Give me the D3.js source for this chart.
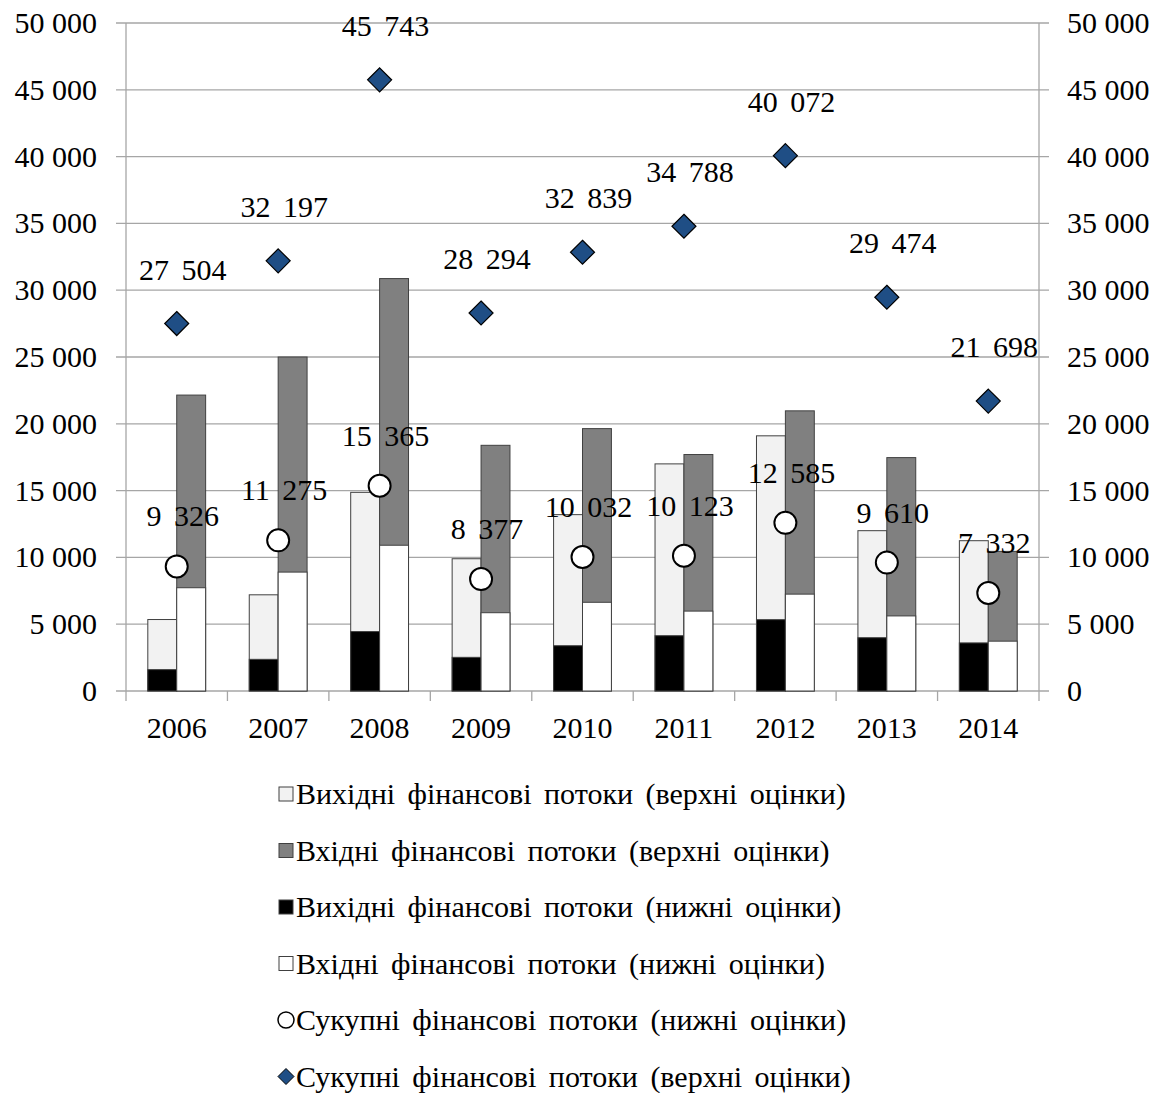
<!DOCTYPE html>
<html><head><meta charset="utf-8"><script src="https://cdn.jsdelivr.net/npm/d3@7"></script></head>
<body style="margin:0">
<svg id="chart" width="1162" height="1093"></svg>
<script>
// chart data
const years = ["2006", "2007", "2008", "2009", "2010", "2011", "2012", "2013", "2014"];
const outUpper = [5350, 7200, 14870, 9900, 13200, 17000, 19100, 12000, 11250];
const inUpper = [22150, 25000, 30870, 18390, 19640, 17700, 20970, 17470, 10450];
const outLower = [1600, 2370, 4450, 2520, 3390, 4140, 5340, 3990, 3600];
const inLower = [7730, 8900, 10910, 5860, 6640, 5980, 7250, 5620, 3730];
const totalLower = [9326, 11275, 15365, 8377, 10032, 10123, 12585, 9610, 7332];
const totalUpper = [27504, 32197, 45743, 28294, 32839, 34788, 40072, 29474, 21698];
const yTicks = [0, 5000, 10000, 15000, 20000, 25000, 30000, 35000, 40000, 45000, 50000];

const legendItems = [
  { label: "Вихідні фінансові потоки (верхні оцінки)", type: "rect", fill: "#f2f2f2" },
  { label: "Вхідні фінансові потоки (верхні оцінки)", type: "rect", fill: "#808080" },
  { label: "Вихідні фінансові потоки (нижні оцінки)", type: "rect", fill: "#000000" },
  { label: "Вхідні фінансові потоки (нижні оцінки)", type: "rect", fill: "#ffffff" },
  { label: "Сукупні фінансові потоки (нижні оцінки)", type: "circle", fill: "#ffffff" },
  { label: "Сукупні фінансові потоки (верхні оцінки)", type: "diamond", fill: "#1f4e85" }
];

const plotLeft = 126, plotTop = 23, plotRight = 1039, plotBottom = 691;
const svg = d3.select("#chart");
const fmt = v => d3.format(",")(v).replace(/,/g, " ");

// scales
const x = d3.scaleBand().domain(years).range([plotLeft, plotRight]).padding(0);
const bw = x.bandwidth();
const xSub = d3.scaleBand().domain(["out", "in"]).range([bw * 0.215, bw * 0.785]).padding(0);
const y = d3.scaleLinear().domain([0, 50000]).range([plotBottom, plotTop]);
const cx = d => x(d) + bw / 2;

// gridlines and axis lines
svg.selectAll(".grid").data(yTicks).enter().append("line")
  .attr("x1", plotLeft - 10).attr("x2", plotRight + 10)
  .attr("y1", d => y(d)).attr("y2", d => y(d))
  .attr("stroke", "#a6a6a6").attr("stroke-width", 1.3);
svg.selectAll(".vaxis").data([plotLeft, plotRight]).enter().append("line")
  .attr("x1", d => d).attr("x2", d => d).attr("y1", plotTop).attr("y2", plotBottom)
  .attr("stroke", "#a6a6a6").attr("stroke-width", 1.3);
svg.selectAll(".xtick").data(d3.range(years.length + 1)).enter().append("line")
  .attr("x1", i => plotLeft + i * bw).attr("x2", i => plotLeft + i * bw)
  .attr("y1", plotBottom).attr("y2", plotBottom + 10)
  .attr("stroke", "#a6a6a6").attr("stroke-width", 1.3);

// bars: taller "upper" bar first, "lower" bar on top
const barSets = [
  { key: "out", values: outUpper, fill: "#f2f2f2" },
  { key: "in", values: inUpper, fill: "#808080" },
  { key: "out", values: outLower, fill: "#000000" },
  { key: "in", values: inLower, fill: "#ffffff" }
];
barSets.forEach(s => {
  svg.selectAll(null).data(years).enter().append("rect")
    .attr("x", d => x(d) + xSub(s.key))
    .attr("width", xSub.bandwidth())
    .attr("y", (d, i) => y(s.values[i]))
    .attr("height", (d, i) => plotBottom - y(s.values[i]))
    .attr("fill", s.fill).attr("stroke", "#404040").attr("stroke-width", 1);
});

// markers
svg.selectAll(".circ").data(years).enter().append("circle")
  .attr("cx", cx).attr("cy", (d, i) => y(totalLower[i])).attr("r", 11)
  .attr("fill", "#fff").attr("stroke", "#000").attr("stroke-width", 2);
svg.selectAll(".diam").data(years).enter().append("path")
  .attr("d", "M0,-12L12,0L0,12L-12,0Z")
  .attr("transform", (d, i) => `translate(${cx(d)},${y(totalUpper[i])})`)
  .attr("fill", "#1f4e85").attr("stroke", "#000").attr("stroke-width", 1.2);

// all texts; ws = extra word spacing (only data labels and legend)
const texts = [];
yTicks.forEach(v => {
  texts.push({ t: fmt(v), x: plotLeft - 29, y: y(v) + 10, a: "end", ws: 0 });
  texts.push({ t: fmt(v), x: plotRight + 28, y: y(v) + 10, a: "start", ws: 0 });
});
years.forEach((yr, i) => {
  texts.push({ t: yr, x: cx(yr), y: plotBottom + 47, a: "middle", ws: 0 });
  texts.push({ t: fmt(totalLower[i]), x: cx(yr) + 6, y: y(totalLower[i]) - 40, a: "middle", ws: 5 });
  texts.push({ t: fmt(totalUpper[i]), x: cx(yr) + 6, y: y(totalUpper[i]) - 44, a: "middle", ws: 5 });
});
legendItems.forEach((d, i) => {
  texts.push({ t: d.label, x: 296, y: 794 + i * 56.5 + 10, a: "start", ws: 5 });
});
svg.selectAll(".txt").data(texts).enter().append("text")
  .attr("x", d => d.x).attr("y", d => d.y)
  .attr("text-anchor", d => d.a)
  .attr("font-size", 30)
  .attr("font-family", "Times New Roman, Liberation Serif, serif")
  .attr("word-spacing", d => d.ws)
  .attr("fill", "#000")
  .text(d => d.t);

// legend symbols
legendItems.forEach((d, i) => {
  const yy = 794 + i * 56.5;
  if (d.type === "rect") {
    svg.append("rect").attr("x", 279).attr("y", yy - 7).attr("width", 14).attr("height", 14)
      .attr("fill", d.fill).attr("stroke", "#404040").attr("stroke-width", 1);
  } else if (d.type === "circle") {
    svg.append("circle").attr("cx", 286).attr("cy", yy).attr("r", 8)
      .attr("fill", d.fill).attr("stroke", "#000").attr("stroke-width", 1.5);
  } else {
    svg.append("path").attr("d", "M0,-8L8,0L0,8L-8,0Z").attr("transform", `translate(286,${yy})`)
      .attr("fill", d.fill).attr("stroke", "#000").attr("stroke-width", 1);
  }
});
</script>
</body></html>
